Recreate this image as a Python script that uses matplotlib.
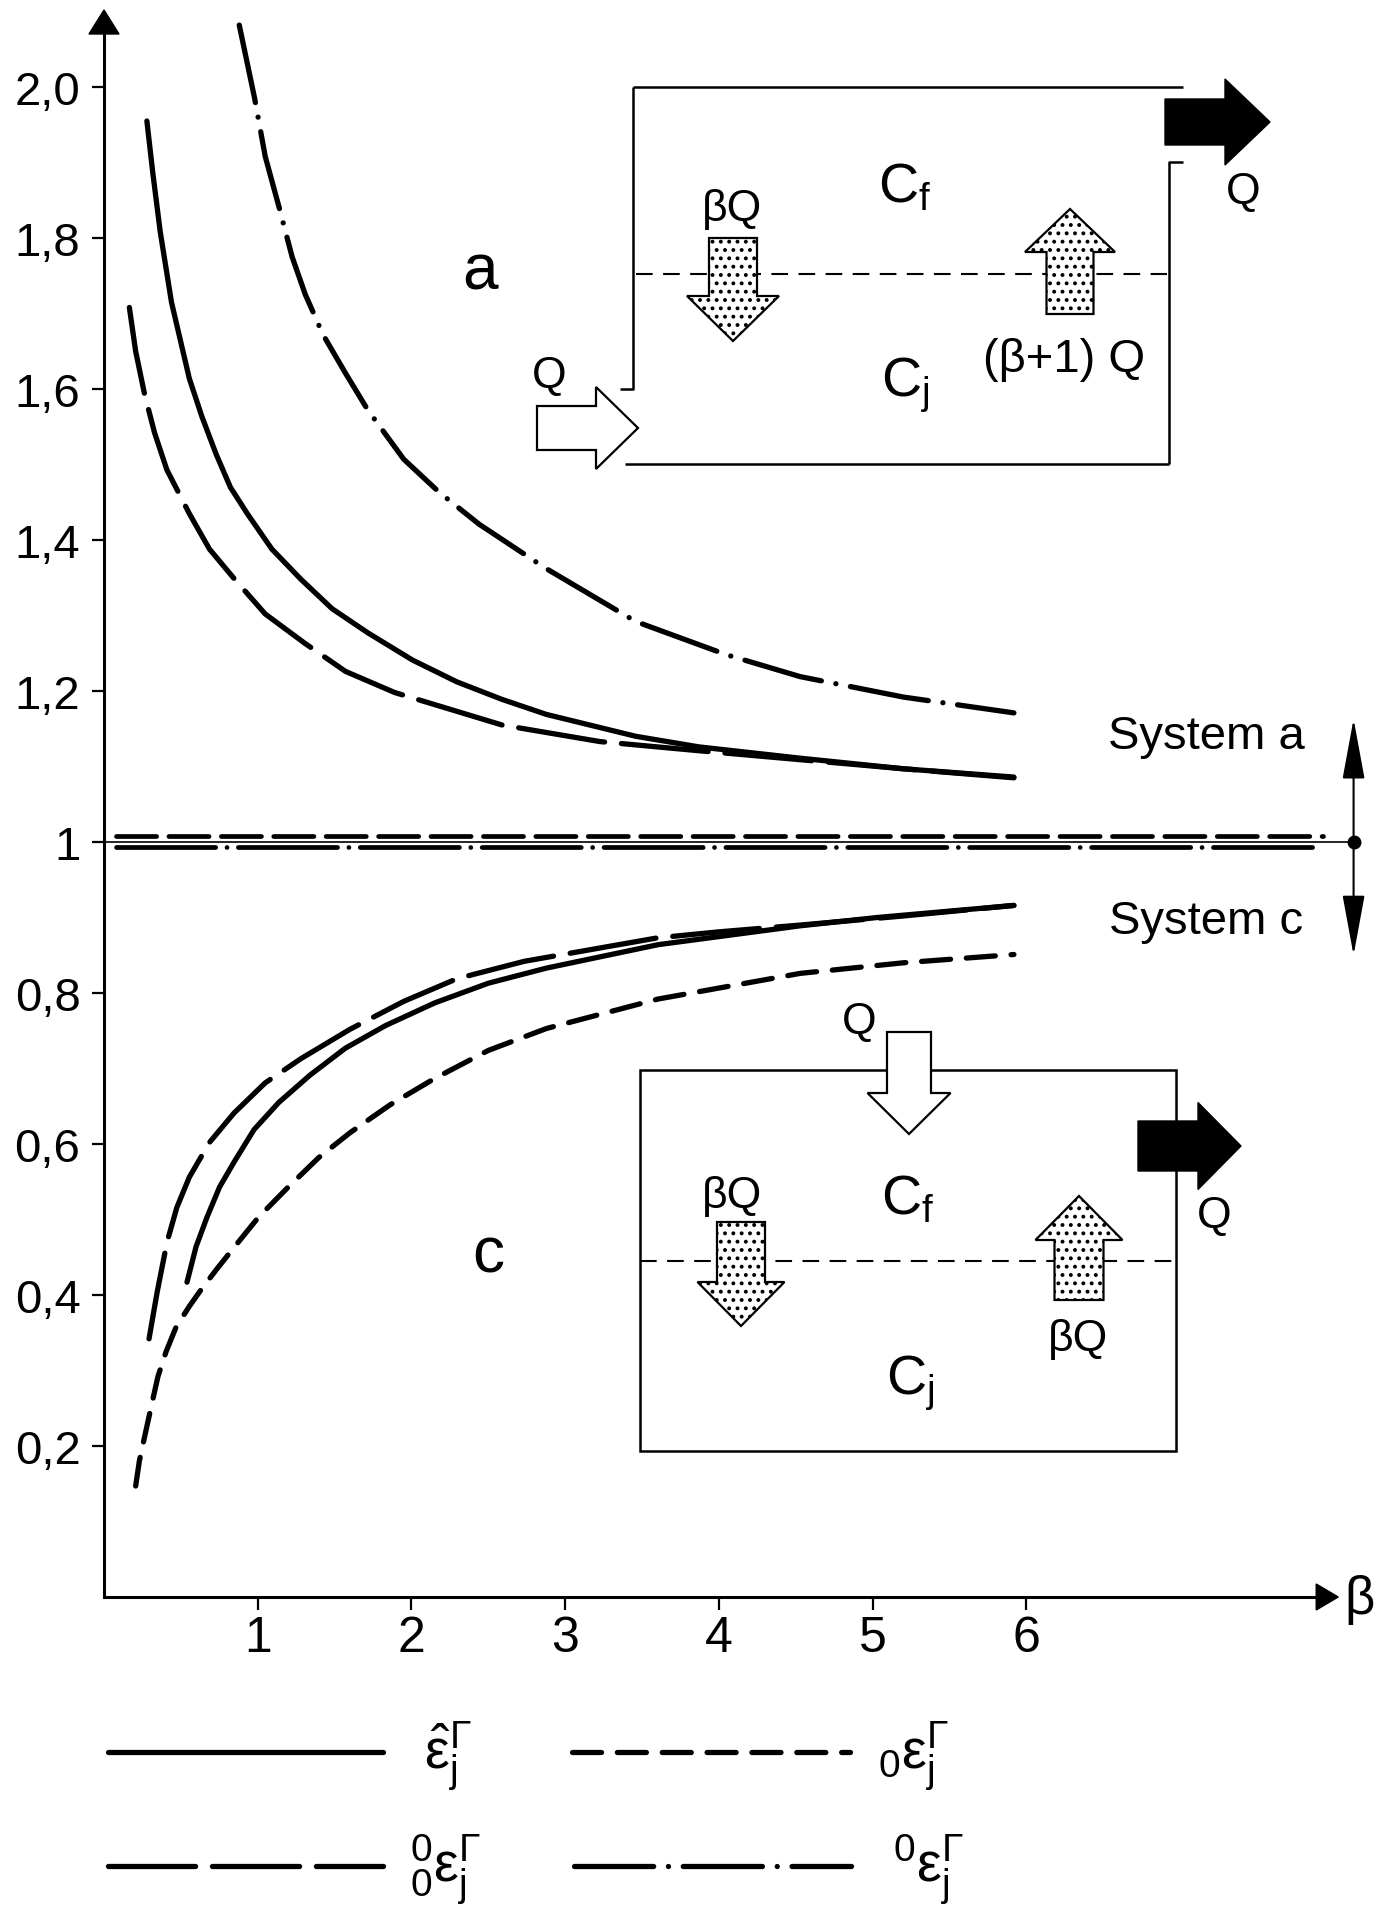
# -*- coding: utf-8 -*-
"""Wirkungsgrade epsilon_j^Gamma ueber beta, System a (>1) und System c (<1)."""
import matplotlib
matplotlib.use('Agg')
import matplotlib.pyplot as plt
from matplotlib.patches import Polygon, Rectangle

# ---- Daten ----
# System a
x_eh_a = [0.279, 0.317, 0.366, 0.439, 0.555, 0.636, 0.729, 0.822, 0.932, 1.092, 1.281, 1.484,
          1.717, 2.007, 2.297, 2.588, 2.878, 3.46, 3.87, 4.53, 5.20, 5.92]
y_eh_a = [1.955, 1.887, 1.808, 1.715, 1.614, 1.564, 1.514, 1.470, 1.435, 1.388, 1.348, 1.309,
          1.277, 1.241, 1.212, 1.189, 1.169, 1.140, 1.126, 1.111, 1.097, 1.086]
x_oo_a = [0.165, 0.206, 0.264, 0.329, 0.409, 0.555, 0.686, 0.846, 1.049, 1.308, 1.571, 1.891,
          2.589, 3.227, 3.864, 4.53, 5.20, 5.92]
y_oo_a = [1.708, 1.650, 1.593, 1.542, 1.493, 1.435, 1.388, 1.349, 1.302, 1.263, 1.226, 1.198,
          1.155, 1.133, 1.121, 1.109, 1.097, 1.085]
x_0_a = [0.88, 0.98, 1.049, 1.14, 1.224, 1.310, 1.425, 1.571, 1.717, 1.950, 2.182, 2.44, 2.87,
         3.46, 4.05, 4.53, 5.20, 5.92]
y_0_a = [2.082, 1.985, 1.908, 1.840, 1.775, 1.725, 1.672, 1.621, 1.572, 1.507, 1.463, 1.421,
         1.363, 1.292, 1.248, 1.219, 1.192, 1.171]
# System c
x_eh_c = [0.540, 0.599, 0.670, 0.752, 0.846, 0.976, 1.137, 1.339, 1.571, 1.833, 2.153, 2.501,
          2.879, 3.605, 4.53, 5.03, 5.92]
y_eh_c = [0.417, 0.464, 0.503, 0.543, 0.576, 0.619, 0.655, 0.691, 0.727, 0.757, 0.787, 0.813,
          0.833, 0.864, 0.889, 0.900, 0.916]
x_oo_c = [0.293, 0.346, 0.410, 0.474, 0.555, 0.686, 0.846, 1.049, 1.281, 1.601, 1.951, 2.297,
          2.735, 3.60, 4.00, 4.53, 5.20, 5.92]
y_oo_c = [0.342, 0.404, 0.470, 0.516, 0.556, 0.602, 0.641, 0.681, 0.713, 0.752, 0.789, 0.819,
          0.842, 0.873, 0.881, 0.890, 0.902, 0.916]
x_0_c = [0.206, 0.230, 0.264, 0.308, 0.351, 0.404, 0.468, 0.555, 0.642, 0.744, 0.846, 1.005,
         1.194, 1.397, 1.601, 1.862, 2.153, 2.501, 2.879, 3.605, 4.53, 5.20, 5.92]
y_0_c = [0.147, 0.180, 0.212, 0.253, 0.292, 0.325, 0.357, 0.385, 0.410, 0.437, 0.463, 0.503,
         0.542, 0.582, 0.615, 0.652, 0.687, 0.724, 0.753, 0.792, 0.826, 0.840, 0.851]
# Kurven, die bei 1 liegen (0eps fuer a, 0-oben-eps fuer c)
x_level = [0.075, 7.93]
y_level_a = [1.008, 1.008]
y_level_c = [0.994, 0.994]

y_ticks = [0.2, 0.4, 0.6, 0.8, 1.0, 1.2, 1.4, 1.6, 1.8, 2.0]
y_ticklabels = ['0,2', '0,4', '0,6', '0,8', '1', '1,2', '1,4', '1,6', '1,8', '2,0']
x_ticks = [1, 2, 3, 4, 5, 6]
x_ticklabels = ['1', '2', '3', '4', '5', '6']

# ---- Geometrie (Pixel im 1383x1908-Bild) ----
W, H = 1383, 1908
X0, XS = 104, 153.7        # px von beta=0, px pro Einheit
Y0, YS = 1598, 755         # px von eps=0, px pro Einheit
XMAX, YMAX = 8.3, 2.11
LW = 3.8
FONT = ['Liberation Sans', 'DejaVu Sans']

plt.rcParams['hatch.linewidth'] = 1.6
plt.rcParams['mathtext.default'] = 'regular'


def px(x, y):
    return X0 + x * XS, Y0 - y * YS


fig = plt.figure(figsize=(W / 100, H / 100), dpi=100)
ax = fig.add_axes([X0 / W, (H - Y0) / H, XMAX * XS / W, YMAX * YS / H])
ax.set_xlim(0, XMAX); ax.set_ylim(0, YMAX)
ax.patch.set_alpha(0)
for s in ('top', 'right'):
    ax.spines[s].set_visible(False)
ax.spines['left'].set_bounds(0, 2.075)
ax.spines['bottom'].set_bounds(0, 7.9)
for s in ('left', 'bottom'):
    ax.spines[s].set_linewidth(2.2)

ax.set_yticks(y_ticks)
ax.set_yticklabels(y_ticklabels, fontfamily=FONT, fontsize=34)
ax.set_xticks(x_ticks)
ax.set_xticklabels(x_ticklabels, fontfamily=FONT, fontsize=36)
ax.tick_params(axis='y', direction='out', length=9, width=1.6, pad=8)
ax.tick_params(axis='x', direction='out', length=9, width=1.6, pad=4)

kw = dict(color='black', lw=LW, dash_capstyle='round', solid_capstyle='round',
          solid_joinstyle='round', dash_joinstyle='round')
ST_SOLID = dict(ls='-')
ST_LONG = dict(dashes=(16.5, 3.2))
ST_SHORT = dict(dashes=(5.5, 3.0))
ST_DADO = dict(dashes=(15, 2.8, 0.01, 2.8))

ax.plot(x_eh_a, y_eh_a, **ST_SOLID, **kw)
ax.plot(x_oo_a, y_oo_a, **ST_LONG, **kw)
ax.plot(x_0_a, y_0_a, **ST_DADO, **kw)
ax.plot(x_eh_c, y_eh_c, **ST_SOLID, **kw)
ax.plot(x_oo_c, y_oo_c, **ST_LONG, **kw)
ax.plot(x_0_c, y_0_c, **ST_SHORT, **kw)

# Linien bei 1
ax.axhline(1.0, xmin=0, xmax=8.13 / XMAX, color='black', lw=1.2)
ax.plot(x_level, y_level_a, color='black', lw=3.4, dashes=(8.5, 2.6),
        dash_capstyle='round')
ax.plot(x_level, y_level_c, color='black', lw=3.4, dashes=(21, 2.4, 0.01, 2.4),
        dash_capstyle='round')
ax.plot([8.13], [1.0], 'o', color='black', ms=9, clip_on=False)
for y_end in (1.163, 0.850):
    ax.annotate('', xy=(8.13, y_end), xytext=(8.13, 1.0), annotation_clip=False,
                arrowprops=dict(arrowstyle='-|>,head_length=1.9,head_width=0.35',
                                lw=1.5, color='black', shrinkA=0, shrinkB=0,
                                mutation_scale=20))

# ---- Overlay in Pixelkoordinaten fuer Schemata und Legende ----
ov = fig.add_axes([0, 0, 1, 1], zorder=5)
ov.set_xlim(0, W); ov.set_ylim(H, 0)
ov.axis('off')

# Achsenpfeile
tx, ty = px(0, 2.102)
ov.add_patch(Polygon([(tx, ty), (tx - 15, ty + 24), (tx + 15, ty + 24)],
                     closed=True, fc='black', ec='black', lw=1))
tx, ty = px(8.03, 0)
ov.add_patch(Polygon([(tx, ty), (tx - 22, ty - 13), (tx - 22, ty + 13)],
                     closed=True, fc='black', ec='black', lw=1))
ov.text(1360, 1600, 'β', fontfamily=FONT, fontsize=38, ha='center', va='center')

ov.text(1206, 737, 'System a', fontfamily=FONT, fontsize=34, ha='center', va='center')
ov.text(1206, 922, 'System c', fontfamily=FONT, fontsize=34, ha='center', va='center')


def varrow(cx, tip_y, base_y, end_y, shw, hhw, **pk):
    pts = [(cx - shw, end_y), (cx - shw, base_y), (cx - hhw, base_y), (cx, tip_y),
           (cx + hhw, base_y), (cx + shw, base_y), (cx + shw, end_y)]
    ov.add_patch(Polygon(pts, closed=True, **pk))


def harrow(cy, tip_x, base_x, end_x, shh, hhh, **pk):
    pts = [(end_x, cy - shh), (base_x, cy - shh), (base_x, cy - hhh), (tip_x, cy),
           (base_x, cy + hhh), (base_x, cy + shh), (end_x, cy + shh)]
    ov.add_patch(Polygon(pts, closed=True, **pk))


DOT = dict(fc='white', ec='black', lw=1.6, hatch='..', zorder=4)
WHITE = dict(fc='white', ec='black', lw=1.6, zorder=4)
BLACK = dict(fc='black', ec='black', lw=1.0, zorder=4)
BOX = dict(color='black', lw=1.8, solid_capstyle='butt')
DASH = dict(color='black', lw=1.5, dashes=(8, 5))
TXT = dict(fontfamily=FONT, ha='center', va='center')

# System a Schema
ov.plot([633, 1183], [88, 88], **BOX)
ov.plot([633, 633, 620], [88, 390, 390], **BOX)
ov.plot([1183, 1169, 1169], [163, 163, 465], **BOX)
ov.plot([625, 1169], [465, 465], **BOX)
ov.plot([636, 1167], [275, 275], **DASH)
harrow(123, 1270, 1225, 1165, 23, 43, **BLACK)
harrow(429, 638, 596, 537, 22, 41, **WHITE)
varrow(733, 342, 297, 239, 24, 46, **DOT)
varrow(1070, 210, 253, 315, 23.5, 45, **DOT)
ov.text(1243, 193, 'Q', fontsize=32, **TXT)
ov.text(549, 376, 'Q', fontsize=32, **TXT)
ov.text(732, 210, 'βQ', fontsize=32, **TXT)
ov.text(1064, 360, '(β+1) Q', fontsize=34, **TXT)
ov.text(905, 188, r'$\mathregular{C_f}$', fontsize=40, **TXT)
ov.text(905, 385, r'$\mathregular{C_j}$', fontsize=40, **TXT)
ov.text(480, 272, 'a', fontsize=46, **TXT)

# System c Schema
ov.add_patch(Rectangle((640, 1071), 536, 381, fc='none', ec='black', lw=1.8, zorder=3))
ov.plot([640, 1176], [1262, 1262], **DASH)
varrow(909, 1135, 1094, 1033, 22, 41.5, **WHITE)
harrow(1147, 1241, 1198, 1138, 25, 43.5, **BLACK)
varrow(741, 1327, 1283, 1223, 24, 43.5, **DOT)
varrow(1079, 1197, 1241, 1301, 24.5, 43.5, **DOT)
ov.text(859, 1023, 'Q', fontsize=32, **TXT)
ov.text(1214, 1217, 'Q', fontsize=32, **TXT)
ov.text(732, 1197, 'βQ', fontsize=32, **TXT)
ov.text(1078, 1340, 'βQ', fontsize=32, **TXT)
ov.text(908, 1200, r'$\mathregular{C_f}$', fontsize=40, **TXT)
ov.text(910, 1383, r'$\mathregular{C_j}$', fontsize=40, **TXT)
ov.text(488, 1256, 'c', fontsize=46, **TXT)

# Legende
leg = [((108, 383), 1753, ST_SOLID, 424, r'$\hat{\varepsilon}_j^{\Gamma}$'),
       ((572, 850), 1753, ST_SHORT, 878, r'${}_0\varepsilon_j^{\Gamma}$'),
       ((108, 383), 1867, ST_LONG, 410, r'${}_0^0\varepsilon_j^{\Gamma}$'),
       ((574, 851), 1867, ST_DADO, 893, r'${}^0\varepsilon_j^{\Gamma}$')]
for (xa, xb), yy, st, lx, lab in leg:
    ov.plot([xa, xb], [yy, yy], **st, **kw)
    ov.text(lx, yy + 15, lab, fontfamily=FONT, fontsize=40, ha='left', va='baseline')

fig.savefig('out.png', dpi=100)
